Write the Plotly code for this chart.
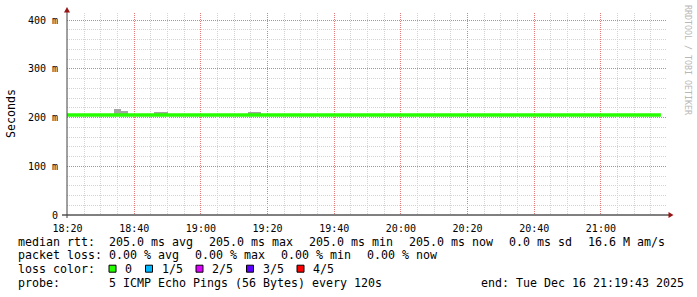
import plotly.graph_objects as go
import pandas as pd

# ---------------- data ----------------
rtt_time = list(pd.date_range("2025-12-16 18:18:00", "2025-12-16 21:18:00", freq="2min"))
median_rtt = [0.205] * len(rtt_time)          # median rtt is a flat 205 ms over the window

smoke_time = ["2025-12-16 18:35:00", "2025-12-16 18:37:00", "2025-12-16 18:47:00",
              "2025-12-16 18:49:00", "2025-12-16 19:15:00", "2025-12-16 19:17:00"]
smoke_min = [0.204, 0.204, 0.204, 0.204, 0.204, 0.204]
smoke_max = [0.218, 0.2133, 0.2106, 0.2106, 0.2113, 0.2113]

y_tick_vals = [0, 0.1, 0.2, 0.3, 0.4]
y_tick_text = ["0", "100 m", "200 m", "300 m", "400 m"]
x_tick_vals = ["2025-12-16 18:20", "2025-12-16 18:40", "2025-12-16 19:00", "2025-12-16 19:20",
               "2025-12-16 19:40", "2025-12-16 20:00", "2025-12-16 20:20", "2025-12-16 20:40",
               "2025-12-16 21:00"]
x_tick_text = ["18:20", "18:40", "19:00", "19:20", "19:40", "20:00", "20:20", "20:40", "21:00"]

rtt_items = ["205.0 ms avg", "205.0 ms max", "205.0 ms min", "205.0 ms now", "0.0 ms sd", "16.6 M am/s"]
loss_items = ["0.00 % avg", "0.00 % max", "0.00 % min", "0.00 % now"]
loss_labels = ["0", "1/5", "2/5", "3/5", "4/5"]
loss_colors = ["#26ff00", "#00b8ff", "#dd00ff", "#5e00ff", "#ff0000"]
probe_text = "5 ICMP Echo Pings (56 Bytes) every 120s"
end_text = "end: Tue Dec 16 21:19:43 2025"

# ---------------- layout geometry ----------------
W, H = 697, 297
L, R, T, B = 67, 30, 13, 82
PW = W - L - R
PH = H - T - B
X_RANGE = ["2025-12-16 18:19:50", "2025-12-16 21:19:50"]
Y_RANGE = [0, PH / 0.4875 / 1000]


def px(x):
    return (x - L) / PW


def py(y):
    return (T + PH - y) / PH


MONO = "DejaVu Sans Mono"
FS = 11.63
CW = 7.0
GAP = 16
MINOR = "#d4d4d4"
MAJOR = "#e57a7a"
DASH = "1px,1px"

x_minor = [t.strftime("%Y-%m-%d %H:%M") for t in
           pd.date_range("2025-12-16 18:15", "2025-12-16 21:20", freq="5min") if t.minute % 20 != 0]
y_minor = [k / 50 for k in range(1, 21) if k % 5 != 0]

fig = go.Figure()
fig.add_trace(go.Scatter(x=[X_RANGE[0]], y=[0], xaxis="x2", yaxis="y2", mode="markers",
                         marker=dict(opacity=0), hoverinfo="skip", showlegend=False))
fig.add_trace(go.Bar(
    x=smoke_time, y=[a - b for a, b in zip(smoke_max, smoke_min)], base=smoke_min,
    width=120000, marker=dict(color="#a4a4a4", line=dict(width=0)), showlegend=False,
))
fig.add_trace(go.Scatter(
    x=rtt_time, y=median_rtt, mode="lines", line=dict(color="#26ff00", width=3.6, shape="hv"),
    showlegend=False,
))

ann = []
shapes = []


def text(x, y, s, size=FS, color="#000", anchor="left", angle=0):
    ann.append(dict(x=px(x), y=py(y), xref="paper", yref="paper", text=s, showarrow=False,
                    xanchor=anchor, yanchor="middle", textangle=angle,
                    font=dict(family=MONO, size=size, color=color)))


X0 = 16
XV = 107.3
lines_y = [241.7, 255.2, 268.7, 282.8]

text(X0, lines_y[0], "median rtt:")
x = XV
for s in rtt_items:
    text(x, lines_y[0], s)
    x += len(s) * CW + GAP
text(X0, lines_y[1], "packet loss:")
x = XV
for s in loss_items:
    text(x, lines_y[1], s)
    x += len(s) * CW + GAP
text(X0, lines_y[2], "loss color:")
x = 109
for lab, col in zip(loss_labels, loss_colors):
    shapes.append(dict(type="rect", xref="paper", yref="paper",
                       x0=px(x), x1=px(x + 7), y0=py(lines_y[2] + 3.5), y1=py(lines_y[2] - 3.5),
                       fillcolor=col, line=dict(color="#000", width=1)))
    text(x + 14, lines_y[2], lab)
    x = x + 14 + len(lab) * CW + 15.5
text(X0, lines_y[3], "probe:")
text(XV, lines_y[3], probe_text)
text(479, lines_y[3], end_text)

text(10.5, 113.5, "Seconds", size=11.6, angle=-90, anchor="center")
text(688, 60, "RRDTOOL / TOBI OETIKER", size=8.3, color="#b8b8b8", anchor="center", angle=90)

shapes += [
    dict(type="line", xref="paper", yref="paper", x0=px(62), x1=px(669), y0=py(215), y1=py(215),
         line=dict(color="#000", width=1), layer="above"),
    dict(type="line", xref="paper", yref="paper", x0=px(67), x1=px(67), y0=py(218), y1=py(12),
         line=dict(color="#404040", width=1), layer="above"),
    dict(type="path", xref="paper", yref="paper",
         path=f"M{px(673.5)},{py(215)} L{px(668.5)},{py(212)} L{px(668.5)},{py(218)} Z",
         fillcolor="#991515", line=dict(width=0), layer="above"),
    dict(type="path", xref="paper", yref="paper",
         path=f"M{px(67)},{py(7)} L{px(64)},{py(12.5)} L{px(70)},{py(12.5)} Z",
         fillcolor="#991515", line=dict(width=0), layer="above"),
]

common = dict(zeroline=False, showline=False, fixedrange=True, gridwidth=1, griddash=DASH)

fig.update_layout(
    width=W, height=H, autosize=False,
    margin=dict(l=L, r=R, t=T, b=B, pad=0),
    paper_bgcolor="white", plot_bgcolor="white",
    showlegend=False, bargap=0,
    annotations=ann, shapes=shapes,
    xaxis2=dict(type="date", range=X_RANGE, overlaying="x", tickmode="array", tickvals=x_minor,
                showticklabels=False, showgrid=True, gridcolor=MINOR, **common),
    yaxis2=dict(range=Y_RANGE, overlaying="y", tickmode="array", tickvals=y_minor,
                showticklabels=False, showgrid=True, gridcolor=MINOR, **common),
    xaxis=dict(
        type="date", range=X_RANGE,
        tickmode="array", tickvals=x_tick_vals, ticktext=x_tick_text,
        showgrid=True, gridcolor=MAJOR,
        ticks="outside", ticklen=4, tickcolor="rgba(0,0,0,0)",
        tickfont=dict(family=MONO, size=10, color="#000"),
        **common,
    ),
    yaxis=dict(
        range=Y_RANGE,
        tickmode="array", tickvals=y_tick_vals, ticktext=y_tick_text,
        showgrid=True, gridcolor=MAJOR,
        ticks="outside", ticklen=6, tickcolor="rgba(0,0,0,0)",
        tickfont=dict(family=MONO, size=10, color="#000"),
        **common,
    ),
)

fig.write_html("out.html", config={"displayModeBar": False})
